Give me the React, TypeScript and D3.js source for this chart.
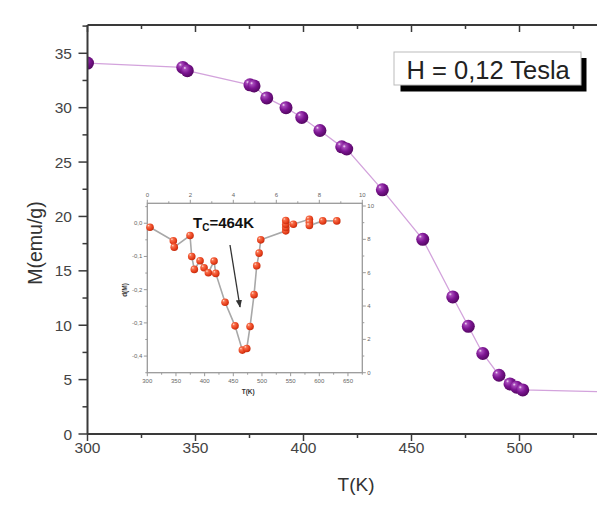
import React from "react";
import * as d3 from "d3";

// Main curve: magnetization vs temperature
const mainT = [300, 344.1, 346.2, 375.2, 377.1, 383, 391.9, 399.2, 407.6, 417.7, 420, 436.5, 455.2, 469.1, 476.3, 483, 490.5, 495.6, 498.7, 501.5, 560];
const mainM = [34.1, 33.7, 33.4, 32.1, 32.0, 30.9, 30.0, 29.1, 27.9, 26.4, 26.2, 22.45, 17.9, 12.6, 9.9, 7.4, 5.4, 4.6, 4.3, 4.05, 3.8];

// Inset: derivative d(M) vs T
const insetT = [304.7, 345.4, 347, 374.5, 377.5, 382, 392, 399, 406.5, 416.4, 419.4, 435.6, 453, 465.8, 473.5, 479.2, 486.2, 490.9, 495, 497.9, 541.5, 541.5, 541.5, 541.5, 554.8, 582.7, 582.7, 582.7, 606, 630.5];
const insetD = [-0.012, -0.053, -0.072, -0.037, -0.10, -0.139, -0.113, -0.134, -0.149, -0.114, -0.151, -0.238, -0.309, -0.382, -0.377, -0.311, -0.215, -0.128, -0.090, -0.050, -0.023, -0.013, -0.003, 0.008, -0.003, 0.012, 0.003, -0.007, 0.007, 0.007];

const xTicks = [300, 350, 400, 450, 500];
const yTicks = [0, 5, 10, 15, 20, 25, 30, 35];
const insetXTicks = [300, 350, 400, 450, 500, 550, 600, 650];
const insetYTicks = [0, -0.1, -0.2, -0.3, -0.4];
const insetTopTicks = [0, 2, 4, 6, 8, 10];
const insetRightTicks = [0, 2, 4, 6, 8, 10];

const FONT = "'Liberation Sans', Arial, sans-serif";

export default function App() {
  const W = 597, H = 515;
  const x = d3.scaleLinear().domain([300, 550]).range([87.5, 87.5 + 250 * 2.16]);
  const y = d3.scaleLinear().domain([0, 37.6]).range([434, 25]);
  const left = 87.5, top = 25, bottom = 434, right = 640;

  const line = d3.line<number>().x((_, i) => x(mainT[i])).y((_, i) => y(mainM[i]));

  // inset scales
  const xi = d3.scaleLinear().domain([300, 675]).range([147.3, 362.3]);
  const yi = d3.scaleLinear().domain([-0.45, 0.06]).range([372.7, 203.3]);
  const xt = d3.scaleLinear().domain([0, 10]).range([147.3, 362.3]);
  const yr = d3.scaleLinear().domain([0, 10]).range([372.7, 206]);
  const iL = 147.3, iR = 362.3, iT = 203.3, iB = 372.7;
  const iline = d3.line<number>().x((_, i) => xi(insetT[i])).y((_, i) => yi(insetD[i]));

  const minorX = d3.range(300, 576, 25);
  const minorY = d3.range(0, 37.6, 2.5);
  const axisColor = "#3a3a3a";
  const labColor = "#444";
  const iAxis = "#9a9a9a";
  const iLab = "#666";
  const fmtComma = (v: number) => (v === 0 ? "0,0" : d3.format(".1f")(v).replace(".", ",").replace("−", "-"));

  return (
    <svg width={W} height={H} style={{ position: "absolute", left: 0, top: 0, background: "#fff" }}>
      <defs>
        <radialGradient id="gP" cx="40%" cy="38%" r="65%" fx="30%" fy="28%">
          <stop offset="0%" stopColor="#f4e6f6" />
          <stop offset="18%" stopColor="#a84abb" />
          <stop offset="55%" stopColor="#7c1592" />
          <stop offset="100%" stopColor="#52065f" />
        </radialGradient>
        <radialGradient id="gR" cx="40%" cy="38%" r="65%" fx="30%" fy="28%">
          <stop offset="0%" stopColor="#ffe0d4" />
          <stop offset="25%" stopColor="#f7704c" />
          <stop offset="70%" stopColor="#e8401c" />
          <stop offset="100%" stopColor="#c02a0c" />
        </radialGradient>
        <clipPath id="clipMain">
          <rect x={left} y={top} width={right - left} height={bottom - top} />
        </clipPath>
        <marker id="arr" viewBox="0 0 10 10" refX="9" refY="5" markerWidth="6" markerHeight="6" orient="auto">
          <path d="M0,1 L10,5 L0,9 z" fill="#333" />
        </marker>
      </defs>
      <rect x={0} y={0} width={W} height={H} fill="#fff" />

      {/* main curve */}
      <g clipPath="url(#clipMain)">
        <path d={line(mainT) || ""} fill="none" stroke="#d3a3dc" strokeWidth={1.3} />
        {mainT.map((t, i) => (
          <circle key={i} cx={x(t)} cy={y(mainM[i])} r={6.5} fill="url(#gP)" />
        ))}
      </g>

      {/* main axes */}
      <line x1={left} x2={right} y1={bottom} y2={bottom} stroke={axisColor} strokeWidth={2} />
      <line x1={left} x2={right} y1={top} y2={top} stroke={axisColor} strokeWidth={2} />
      <line x1={left} x2={left} y1={top} y2={bottom} stroke={axisColor} strokeWidth={2} />
      {minorX.map((v) => {
        const major = v % 50 === 0;
        return (
          <g key={"xt" + v}>
            <line x1={x(v)} x2={x(v)} y1={bottom} y2={bottom + (major ? 7 : 4)} stroke={axisColor} strokeWidth={1.5} />
            <line x1={x(v)} x2={x(v)} y1={top} y2={top + (major ? 7 : 4)} stroke={axisColor} strokeWidth={1.5} />
          </g>
        );
      })}
      {minorY.map((v) => {
        const major = v % 5 === 0;
        return (
          <line key={"yt" + v} x1={left} x2={left - (major ? 9 : 5)} y1={y(v)} y2={y(v)} stroke={axisColor} strokeWidth={1.5} />
        );
      })}
      {xTicks.map((v) => (
        <text key={"xl" + v} x={x(v)} y={453} textAnchor="middle" fontFamily={FONT} fontSize={15.5} fill={labColor}>
          {v}
        </text>
      ))}
      {yTicks.map((v) => (
        <text key={"yl" + v} x={72} y={y(v) + 5.5} textAnchor="end" fontFamily={FONT} fontSize={15.5} fill={labColor}>
          {v}
        </text>
      ))}
      <text x={356} y={491} textAnchor="middle" fontFamily={FONT} fontSize={19} fill="#333">T(K)</text>
      <text transform="translate(42,243) rotate(-90)" textAnchor="middle" fontFamily={FONT} fontSize={19.5} fill="#333">M(emu/g)</text>

      {/* field label */}
      <rect x={400.5} y={58} width={186} height={33.5} fill="#000" />
      <rect x={394} y={52} width={187} height={33} fill="#fff" stroke="#bbb" strokeWidth={1} />
      <text x={406.5} y={78.5} fontFamily={FONT} fontSize={25.5} fill="#222">H = 0,12 Tesla</text>

      {/* inset */}
      <rect x={iL} y={iT} width={iR - iL} height={iB - iT} fill="#fff" stroke={iAxis} strokeWidth={1.3} />
      {d3.range(300, 676, 25).map((v) => (
        <line key={"ixt" + v} x1={xi(v)} x2={xi(v)} y1={iB} y2={iB + (v % 50 === 0 ? 3.5 : 2)} stroke={iAxis} strokeWidth={1} />
      ))}
      {insetXTicks.map((v) => (
        <text key={"ixl" + v} x={xi(v)} y={iB + 10} textAnchor="middle" fontFamily={FONT} fontSize={6} fill={iLab}>{v}</text>
      ))}
      {d3.range(-0.45, 0.061, 0.05).map((v) => (
        <line key={"iyt" + v.toFixed(2)} x1={iL} x2={iL - (Math.abs(Math.round(v * 100)) % 10 === 0 ? 3.5 : 2)} y1={yi(v)} y2={yi(v)} stroke={iAxis} strokeWidth={1} />
      ))}
      {insetYTicks.map((v) => (
        <text key={"iyl" + v} x={iL - 5} y={yi(v) + 2} textAnchor="end" fontFamily={FONT} fontSize={6} fill={iLab}>{fmtComma(v)}</text>
      ))}
      {d3.range(0, 11, 1).map((v) => (
        <line key={"itt" + v} x1={xt(v)} x2={xt(v)} y1={iT} y2={iT - (v % 2 === 0 ? 3.5 : 2)} stroke={iAxis} strokeWidth={1} />
      ))}
      {insetTopTicks.map((v) => (
        <text key={"itl" + v} x={xt(v)} y={iT - 6} textAnchor="middle" fontFamily={FONT} fontSize={6} fill={iLab}>{v}</text>
      ))}
      {d3.range(0, 11, 1).map((v) => (
        <line key={"irt" + v} x1={iR} x2={iR + (v % 2 === 0 ? 3.5 : 2)} y1={yr(v)} y2={yr(v)} stroke={iAxis} strokeWidth={1} />
      ))}
      {insetRightTicks.map((v) => (
        <text key={"irl" + v} x={iR + 5} y={yr(v) + 2} textAnchor="start" fontFamily={FONT} fontSize={6} fill={iLab}>{v}</text>
      ))}
      <text x={xi(476)} y={394} textAnchor="middle" fontFamily={FONT} fontSize={6.5} fontWeight="bold" fill="#333">T(K)</text>
      <text transform="translate(127,290) rotate(-90)" textAnchor="middle" fontFamily={FONT} fontSize={6.5} fontWeight="bold" fill="#333">d(M)</text>

      <path d={iline(insetT) || ""} fill="none" stroke="#a8a8a8" strokeWidth={1.6} />
      {insetT.map((t, i) => (
        <circle key={"ip" + i} cx={xi(t)} cy={yi(insetD[i])} r={3.8} fill="url(#gR)" />
      ))}

      <text x={193} y={228} fontFamily={FONT} fontSize={15} fontWeight="bold" fill="#111">
        T<tspan fontSize={10} dy={3}>C</tspan><tspan dy={-3}>=464K</tspan>
      </text>
      <line x1={230} y1={245} x2={240} y2={307} stroke="#333" strokeWidth={1.3} markerEnd="url(#arr)" />
    </svg>
  );
}
